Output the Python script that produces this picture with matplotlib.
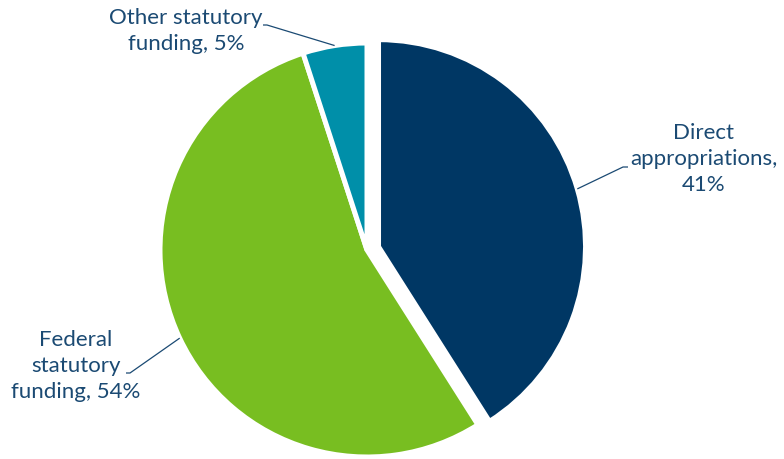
import numpy as np
import matplotlib
matplotlib.use("Agg")
import matplotlib.pyplot as plt

labels = ["Direct\nappropriations,", "Federal\nstatutory\nfunding,", "Other statutory\nfunding,"]
shares = [41, 54, 5]
colors = ["#003764", "#78be21", "#008fa9"]

text_color = "#1b4a73"
plt.rcParams["font.family"] = ["Lato", "DejaVu Sans"]

W, H = 784, 459
fig = plt.figure(figsize=(W / 100, H / 100), dpi=100)
ax = fig.add_axes([0, 0, 1, 1])

cx, cy, R = 367, H - 250, 207
# explode offsets are in data units (pixels here)
explode = [12, 0, 0]
wedges, _ = ax.pie(
    shares, colors=colors, explode=explode, startangle=90, counterclock=False,
    radius=R, center=(cx, cy), frame=True,
    wedgeprops=dict(edgecolor="white", linewidth=3.6),
)
ax.set_xlim(0, W)
ax.set_ylim(0, H)
ax.set_aspect("equal")
ax.axis("off")

# label anchor (centre of text block) and leader-line elbow for each slice
text_pos = [(704, H - 159), (76, H - 366), (186, H - 31)]
elbows = [((623, H - 167), (628, H - 167)),
          ((130, H - 373), (126, H - 373)),
          ((267, H - 25), (263, H - 25))]

for w, lab, val, tp, (e1, e2) in zip(wedges, labels, shares, text_pos, elbows):
    mid = np.deg2rad((w.theta1 + w.theta2) / 2)
    wx, wy = w.center
    sx = wx + w.r * np.cos(mid)
    sy = wy + w.r * np.sin(mid)
    ax.plot([sx, e1[0], e2[0]], [sy, e1[1], e2[1]], color=text_color, lw=0.9,
            solid_capstyle="butt")
    if lab.startswith("Direct"):
        txt = f"{lab}\n{val}%"
    else:
        txt = f"{lab} {val}%"
    ax.text(tp[0], tp[1], txt, ha="center", va="center", color=text_color,
            fontsize=16, linespacing=1.36, multialignment="center")

fig.savefig("out.png", dpi=100, facecolor="white")
